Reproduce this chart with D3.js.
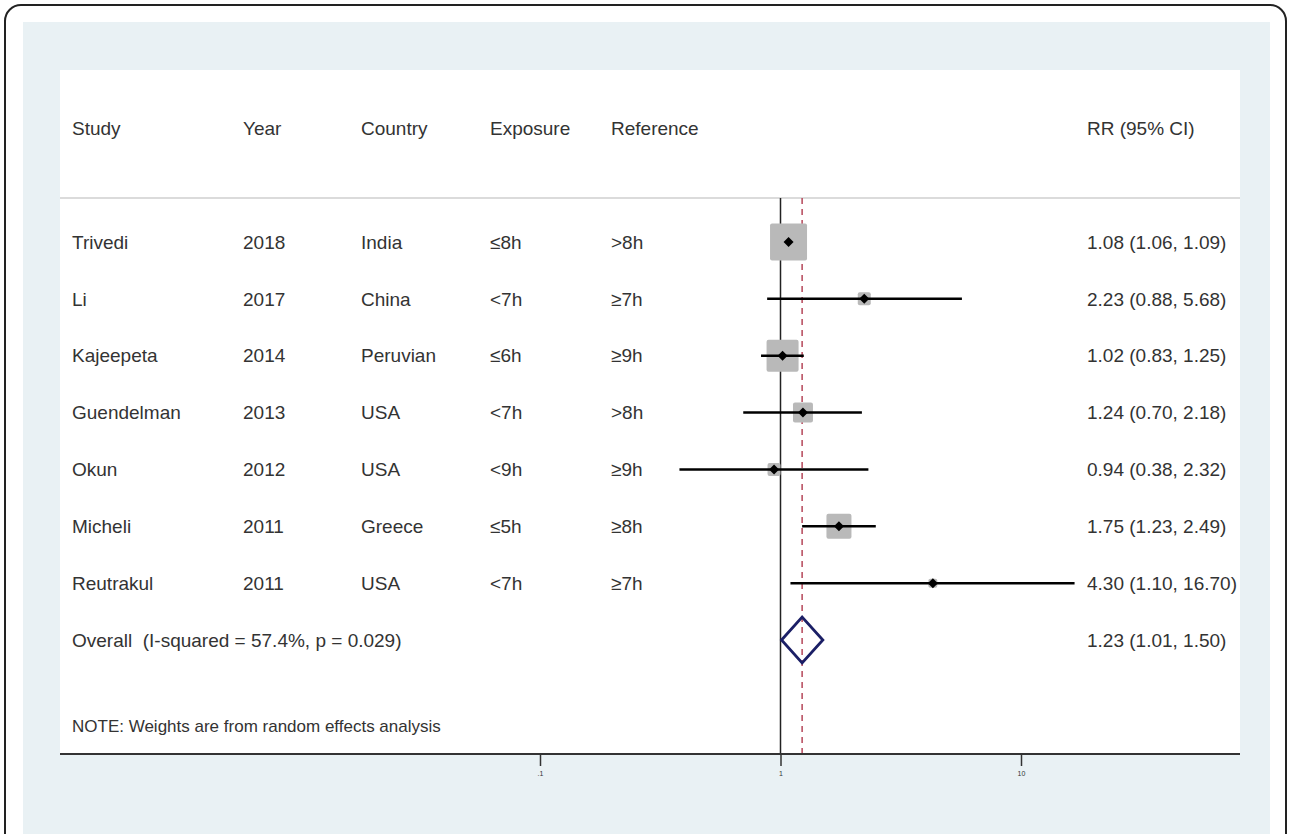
<!DOCTYPE html>
<html>
<head>
<meta charset="utf-8">
<script src="https://cdn.jsdelivr.net/npm/d3@7"></script>
<style>
  body { margin: 0; background: #fff; }
  text { font-family: "Liberation Sans", Arial, sans-serif; fill: #333; white-space: pre; }
</style>
</head>
<body>
<div id="forest"></div>
<script>
// data
var studies    = ["Trivedi", "Li", "Kajeepeta", "Guendelman", "Okun", "Micheli", "Reutrakul"];
var years      = ["2018", "2017", "2014", "2013", "2012", "2011", "2011"];
var countries  = ["India", "China", "Peruvian", "USA", "USA", "Greece", "USA"];
var exposures  = ["≤8h", "<7h", "≤6h", "<7h", "<9h", "≤5h", "<7h"];
var references = [">8h", "≥7h", "≥9h", ">8h", "≥9h", "≥8h", "≥7h"];
var rr         = [1.08, 2.23, 1.02, 1.24, 0.94, 1.75, 4.30];
var lower      = [1.06, 0.88, 0.83, 0.70, 0.38, 1.23, 1.10];
var upper      = [1.09, 5.68, 1.25, 2.18, 2.32, 2.49, 16.70];
var weights    = [35.7, 4.4, 26.7, 10.4, 4.4, 16.3, 2.1];
var overall    = { rr: 1.23, lo: 1.01, hi: 1.50 };
var overallLabel = "Overall  (I-squared = 57.4%, p = 0.029)";
var headers    = ["Study", "Year", "Country", "Exposure", "Reference", "RR (95% CI)"];
var tickValues = [0.1, 1, 10];
var tickLabels = [".1", "1", "10"];

var svgWidth = 1290;
var svgHeight = 834;

var plot = { left: 60, right: 1240, top: 70, bottom: 754, header: 198 };
var colX = [72, 243, 361, 490, 611, 1087];
var fontSize = 19;

var svg = d3.select("#forest")
    .append("svg")
    .attr("width", svgWidth)
    .attr("height", svgHeight);

// frame + backgrounds
svg.append("rect")
    .attr("x", 5).attr("y", 5)
    .attr("width", 1281).attr("height", 860)
    .attr("rx", 16)
    .attr("fill", "#fff")
    .attr("stroke", "#222")
    .attr("stroke-width", 2);

svg.append("rect")
    .attr("x", 23).attr("y", 22)
    .attr("width", 1247).attr("height", 830)
    .attr("fill", "#e9f1f4");

svg.append("rect")
    .attr("x", plot.left).attr("y", plot.top)
    .attr("width", plot.right - plot.left)
    .attr("height", plot.bottom - plot.top)
    .attr("fill", "#fff");

var x = d3.scaleLog()
    .domain([0.1, 10])
    .range([540, 1021]);

var rowIdx = d3.range(studies.length + 1);
var y = d3.scalePoint()
    .domain(rowIdx)
    .range([242, 640]);

var fmt = d3.format(".2f");

// header
svg.selectAll(".hdr")
    .data(headers)
    .enter()
    .append("text")
    .attr("class", "hdr")
    .attr("x", (d, i) => colX[i])
    .attr("y", 128)
    .attr("dy", "0.35em")
    .attr("font-size", fontSize)
    .text(d => d);

svg.append("line")
    .attr("x1", plot.left).attr("x2", plot.right)
    .attr("y1", plot.header).attr("y2", plot.header)
    .attr("stroke", "#cfcfcf")
    .attr("stroke-width", 1.5);

// null line and overall dashed line
svg.append("line")
    .attr("x1", x(1)).attr("x2", x(1))
    .attr("y1", plot.header).attr("y2", plot.bottom)
    .attr("stroke", "#222")
    .attr("stroke-width", 1.5);

svg.append("line")
    .attr("x1", x(overall.rr)).attr("x2", x(overall.rr))
    .attr("y1", plot.header).attr("y2", plot.bottom)
    .attr("stroke", "#b5475a")
    .attr("stroke-width", 1.5)
    .attr("stroke-dasharray", "6,5");

// table columns
var cols = [studies, years, countries, exposures, references];
cols.forEach(function(col, c) {
    svg.selectAll(null)
        .data(col)
        .enter()
        .append("text")
        .attr("x", colX[c])
        .attr("y", (d, i) => y(i))
        .attr("dy", "0.35em")
        .attr("font-size", fontSize)
        .text(d => d);
});

svg.selectAll(null)
    .data(rr)
    .enter()
    .append("text")
    .attr("x", colX[5])
    .attr("y", (d, i) => y(i))
    .attr("dy", "0.35em")
    .attr("font-size", fontSize)
    .text((d, i) => fmt(d) + " (" + fmt(lower[i]) + ", " + fmt(upper[i]) + ")");

// weight boxes
var side = d3.scaleSqrt()
    .domain([0, d3.max(weights)])
    .range([0, 37]);

svg.selectAll(".box")
    .data(weights)
    .enter()
    .append("rect")
    .attr("class", "box")
    .attr("x", (d, i) => x(rr[i]) - side(d) / 2)
    .attr("y", (d, i) => y(i) - side(d) / 2)
    .attr("width", d => side(d))
    .attr("height", d => side(d))
    .attr("rx", 2)
    .attr("fill", "#b9b9b9");

// CI lines
svg.selectAll(".ci")
    .data(rr)
    .enter()
    .append("line")
    .attr("class", "ci")
    .attr("x1", (d, i) => x(lower[i]))
    .attr("x2", (d, i) => x(upper[i]))
    .attr("y1", (d, i) => y(i))
    .attr("y2", (d, i) => y(i))
    .attr("stroke", "#000")
    .attr("stroke-width", 2.5);

// point markers
svg.selectAll(".pt")
    .data(rr)
    .enter()
    .append("path")
    .attr("class", "pt")
    .attr("d", d3.symbol().type(d3.symbolSquare).size(50))
    .attr("transform", (d, i) => `translate(${x(d)}, ${y(i)}) rotate(45)`)
    .attr("fill", "#000");

// overall row
var oy = y(studies.length);
svg.append("text")
    .attr("x", colX[0])
    .attr("y", oy)
    .attr("dy", "0.35em")
    .attr("font-size", fontSize)
    .text(overallLabel);

svg.append("text")
    .attr("x", colX[5])
    .attr("y", oy)
    .attr("dy", "0.35em")
    .attr("font-size", fontSize)
    .text(fmt(overall.rr) + " (" + fmt(overall.lo) + ", " + fmt(overall.hi) + ")");

svg.append("path")
    .attr("d", d3.line()([
        [x(overall.lo), oy],
        [x(overall.rr), oy - 23],
        [x(overall.hi), oy],
        [x(overall.rr), oy + 23]
    ]) + "Z")
    .attr("fill", "none")
    .attr("stroke", "#1b1f66")
    .attr("stroke-width", 2.8);

// note
svg.append("text")
    .attr("x", colX[0])
    .attr("y", 726)
    .attr("dy", "0.35em")
    .attr("font-size", 17)
    .text("NOTE: Weights are from random effects analysis");

// bottom axis
var xAxis = d3.axisBottom(x)
    .tickValues(tickValues)
    .tickFormat((d, i) => tickLabels[i])
    .tickSize(12)
    .tickSizeOuter(0);

var axisG = svg.append("g")
    .attr("transform", `translate(0, ${plot.bottom})`)
    .call(xAxis);

axisG.select(".domain").remove();
axisG.selectAll(".tick line").attr("stroke", "#333").attr("stroke-width", 1.5);
axisG.selectAll(".tick text")
    .attr("font-size", 7)
    .attr("font-family", "Liberation Sans, Arial, sans-serif")
    .attr("fill", "#667")
    .attr("y", 17);

svg.append("line")
    .attr("x1", plot.left).attr("x2", plot.right)
    .attr("y1", plot.bottom).attr("y2", plot.bottom)
    .attr("stroke", "#333")
    .attr("stroke-width", 2);
</script>
</body>
</html>
